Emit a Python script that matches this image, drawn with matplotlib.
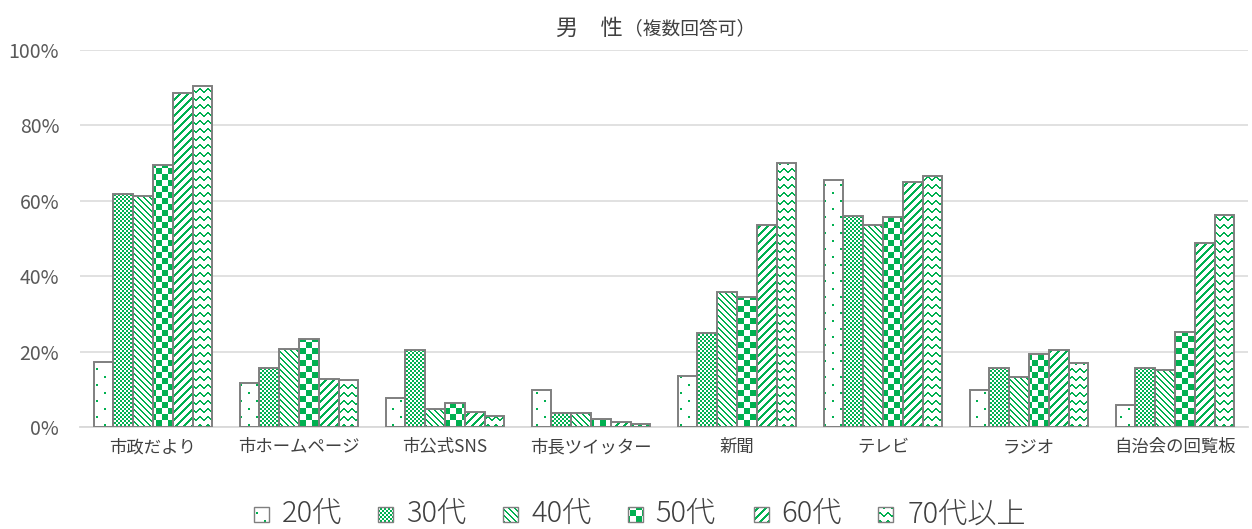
import numpy as np
import matplotlib
matplotlib.use('Agg')
import matplotlib.pyplot as plt
from matplotlib.patches import Rectangle
from matplotlib.path import Path

plt.rcParams['font.family'] = ['Noto Sans CJK JP', 'DejaVu Sans']

categories = ['市政だより', '市ホームページ', '市公式SNS', '市長ツイッター',
              '新聞', 'テレビ', 'ラジオ', '自治会の回覧板']
ages = ['20代', '30代', '40代', '50代', '60代', '70代以上']

# percent of respondents by age group
age20 = [17.3, 11.7, 7.8, 9.8, 13.5, 65.5, 9.8, 5.8]
age30 = [61.8, 15.6, 20.4, 3.8, 25.0, 56.0, 15.6, 15.6]
age40 = [61.4, 20.7, 4.7, 3.8, 35.7, 53.5, 13.3, 15.1]
age50 = [69.5, 23.3, 6.3, 2.1, 34.5, 55.6, 19.3, 25.3]
age60 = [88.5, 12.7, 3.9, 1.4, 53.6, 64.9, 20.4, 48.9]
age70 = [90.4, 12.5, 3.0, 0.8, 70.1, 66.6, 16.9, 56.2]
series = [age20, age30, age40, age50, age60, age70]

yticks = [0, 20, 40, 60, 80, 100]

W, H = 1252, 529
GREEN = np.array([0, 176, 80]) / 255.
EDGE = '#7f7f7f'
TXT = '#404040'
kinds = ['dots', 'fine', 'down', 'check', 'up', 'wave']


def pattern_mask(kind, r, c):
    # r, c are absolute pixel rows / columns (rows counted from the top)
    if kind == 'dots':
        return (((r % 16) < 2) & ((c % 16) < 2)) | ((((r + 8) % 16) < 2) & (((c + 8) % 16) < 2))
    if kind == 'fine':
        return ((r // 2) + (c // 2)) % 2 == 0
    if kind == 'down':
        return (c - r) % 6 < 2
    if kind == 'check':
        return (r // 6 + c // 6) % 2 == 0
    if kind == 'up':
        return (r + c) % 8 < 3
    if kind == 'wave':
        offs = np.array([0, 1, 2, 3, 3, 2, 1, 0])
        return (r - offs[c % 8]) % 8 < 2
    return np.zeros(np.broadcast(r, c).shape, bool)


def pattern_img(kind, top, bottom, left, right):
    r = np.arange(top, bottom)[:, None]
    c = np.arange(left, right)[None, :]
    m = pattern_mask(kind, r, c)
    img = np.ones(m.shape + (3,))
    img[m] = GREEN
    return img


fig = plt.figure(figsize=(W / 100, H / 100), dpi=100)
ax_l, ax_r, ax_t, ax_b = 80, 1248, 50, 427
ax = fig.add_axes([ax_l / W, (H - ax_b) / H, (ax_r - ax_l) / W, (ax_b - ax_t) / H])

x = np.arange(len(categories))
width = 0.815 / len(series)
ax.set_xlim(-0.5, len(categories) - 0.5)
ax.set_ylim(0, 100)

for j, vals in enumerate(series):
    xs = x + (j - 2.5) * width
    # patterned fill, clipped to this age group's bars
    rects = [Path([(xi - width / 2, 0), (xi + width / 2, 0), (xi + width / 2, v),
                   (xi - width / 2, v), (xi - width / 2, 0)], closed=True)
             for xi, v in zip(xs, vals)]
    clip = Path.make_compound_path(*rects)
    img = pattern_img(kinds[j], ax_t, ax_b, ax_l, ax_r)
    im = ax.imshow(img, extent=(-0.5, len(categories) - 0.5, 0, 100),
                   aspect='auto', interpolation='nearest', zorder=2)
    im.set_clip_path(clip, transform=ax.transData)
    ax.bar(xs, vals, width, facecolor='none', edgecolor=EDGE, linewidth=1.4,
           zorder=3, label=ages[j])

ax.set_xlim(-0.5, len(categories) - 0.5)
ax.set_ylim(0, 100)
ax.set_yticks(yticks)
ax.set_yticklabels([f'{t}%' for t in yticks])
ax.set_xticks(x)
ax.set_xticklabels(categories)
ax.tick_params(axis='y', length=0, pad=15, labelsize=14, labelcolor='#595959')
ax.tick_params(axis='x', length=0, pad=8, labelsize=12.5, labelcolor=TXT)
ax.yaxis.grid(True, color='#d9d9d9', linewidth=1.1)
ax.set_axisbelow(True)
for s in ['top', 'left', 'right']:
    ax.spines[s].set_visible(False)
ax.spines['bottom'].set_color('#d9d9d9')
ax.spines['bottom'].set_linewidth(1.3)

# overlay in pixel coordinates for title and legend
lax = fig.add_axes([0, 0, 1, 1])
lax.set_xlim(0, W)
lax.set_ylim(H, 0)
lax.axis('off')

lax.text(556, 28, '男　性', fontsize=16, color=TXT, ha='left', va='center')
lax.text(624, 29, '（複数回答可）', fontsize=13.5, color=TXT, ha='left', va='center')

sq_x = [254, 378, 503, 628, 754, 878]
txt_x = [282, 406, 532, 655, 781, 908]
sq = 15
sq_top = 507
for j, name in enumerate(ages):
    x0 = sq_x[j]
    img = pattern_img(kinds[j], sq_top, sq_top + sq, x0, x0 + sq)
    lax.imshow(img, extent=(x0, x0 + sq, sq_top + sq, sq_top),
               aspect='auto', interpolation='nearest', zorder=2)
    lax.add_patch(Rectangle((x0, sq_top), sq, sq, facecolor='none',
                            edgecolor=EDGE, linewidth=1.0, zorder=3))
    lax.text(txt_x[j], 514, name, fontsize=21, fontweight='light', color=TXT,
             ha='left', va='center')
lax.set_xlim(0, W)
lax.set_ylim(H, 0)

fig.savefig('out.png', dpi=100)
